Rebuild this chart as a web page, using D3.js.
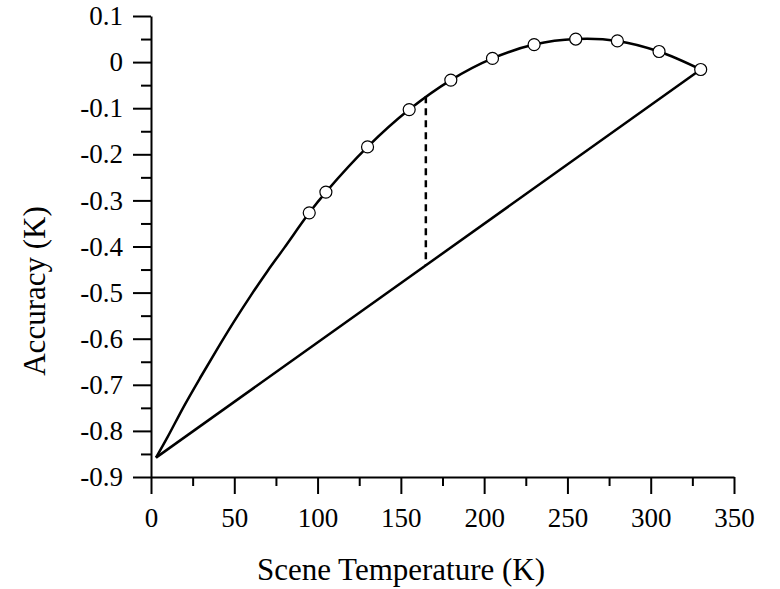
<!DOCTYPE html>
<html>
<head>
<meta charset="utf-8">
<script src="https://cdn.jsdelivr.net/npm/d3@7"></script>
<style>
  body { margin: 0; background: #fff; }
  svg { display: block; font-family: "Liberation Serif", "Times New Roman", serif; }
</style>
</head>
<body>
<svg id="chart"></svg>
<script>
// curve (no markers below 95 K)
var curveTemps = [3, 10, 20, 30, 40, 50, 60, 70, 80, 95, 105, 130, 155, 180, 205, 230, 255, 280, 305, 330];
var curveAcc   = [-0.858, -0.813, -0.745, -0.682, -0.621, -0.562, -0.506, -0.453, -0.403, -0.327, -0.282, -0.184, -0.103, -0.039, 0.008, 0.038, 0.050, 0.046, 0.023, -0.016];

// measured points (circles)
var pointTemps = [95, 105, 130, 155, 180, 205, 230, 255, 280, 305, 330];
var pointAcc   = [-0.327, -0.282, -0.184, -0.103, -0.039, 0.008, 0.038, 0.050, 0.046, 0.023, -0.016];

// straight chord between the end points
var chordTemps = [3, 330];
var chordAcc   = [-0.858, -0.016];

// dashed gap marker
var gapTemps = [165, 165];
var gapAcc   = [-0.074, -0.440];

var xTicks = [0, 50, 100, 150, 200, 250, 300, 350];
var xTickLabels = ["0", "50", "100", "150", "200", "250", "300", "350"];
var xMinor = [25, 75, 125, 175, 225, 275, 325];
var yTicks = [0.1, 0, -0.1, -0.2, -0.3, -0.4, -0.5, -0.6, -0.7, -0.8, -0.9];
var yTickLabels = ["0.1", "0", "-0.1", "-0.2", "-0.3", "-0.4", "-0.5", "-0.6", "-0.7", "-0.8", "-0.9"];
var yMinor = [0.05, -0.05, -0.15, -0.25, -0.35, -0.45, -0.55, -0.65, -0.75, -0.85];

var margin = {top: 16, right: 46, bottom: 112, left: 151};
var width  = 780 - margin.left - margin.right;
var height = 589 - margin.top - margin.bottom;

var x = d3.scaleLinear().domain([0, 350]).range([0, width]);
var y = d3.scaleLinear().domain([-0.9, 0.1]).range([height, 0]);

var svg = d3.select("#chart")
  .attr("width", 780)
  .attr("height", 589)
  .append("g")
  .attr("transform", "translate(" + margin.left + "," + margin.top + ")");

function zip(a, b) { return a.map(function(v, i) { return [v, b[i]]; }); }

// axes
var xAxis = svg.append("g")
  .attr("transform", "translate(0," + height + ")")
  .call(d3.axisBottom(x).tickValues(xTicks).tickSize(17).tickSizeOuter(0).tickPadding(14)
    .tickFormat(function(d, i) { return xTickLabels[i]; }));
svg.append("g")
  .attr("transform", "translate(0," + height + ")")
  .call(d3.axisBottom(x).tickValues(xMinor).tickSize(9).tickSizeOuter(0).tickFormat(""))
  .select(".domain").remove();

var yAxis = svg.append("g")
  .call(d3.axisLeft(y).tickValues(yTicks).tickSize(18).tickSizeOuter(0).tickPadding(10)
    .tickFormat(function(d, i) { return yTickLabels[i]; }));
svg.append("g")
  .call(d3.axisLeft(y).tickValues(yMinor).tickSize(10).tickSizeOuter(0).tickFormat(""))
  .select(".domain").remove();

svg.selectAll(".domain, .tick line")
  .attr("stroke", "#000")
  .attr("stroke-width", 2);
svg.selectAll(".tick text")
  .attr("fill", "#000")
  .style("font-size", "27px")
  .style("font-family", "'Liberation Serif', 'Times New Roman', serif");

// axis titles
svg.append("text")
  .attr("x", 401 - margin.left)
  .attr("y", 580 - margin.top)
  .style("text-anchor", "middle")
  .style("font-size", "31px")
  .text("Scene Temperature (K)");

svg.append("text")
  .attr("transform", "translate(" + (45 - margin.left) + "," + (291 - margin.top) + ") rotate(-90)")
  .style("text-anchor", "middle")
  .style("font-size", "31px")
  .text("Accuracy (K)");

var line = d3.line()
  .x(function(d) { return x(d[0]); })
  .y(function(d) { return y(d[1]); });

svg.append("path")
  .datum(zip(chordTemps, chordAcc))
  .attr("d", line)
  .attr("fill", "none")
  .attr("stroke", "#000")
  .attr("stroke-width", 2.5);

svg.append("path")
  .datum(zip(gapTemps, gapAcc))
  .attr("d", line)
  .attr("fill", "none")
  .attr("stroke", "#000")
  .attr("stroke-width", 2.5)
  .attr("stroke-dasharray", "7,5");

svg.append("path")
  .datum(zip(curveTemps, curveAcc))
  .attr("d", line.curve(d3.curveCatmullRom))
  .attr("fill", "none")
  .attr("stroke", "#000")
  .attr("stroke-width", 2.5);

svg.selectAll("circle.pt")
  .data(zip(pointTemps, pointAcc))
  .enter()
  .append("circle")
  .attr("class", "pt")
  .attr("cx", function(d) { return x(d[0]); })
  .attr("cy", function(d) { return y(d[1]); })
  .attr("r", 6)
  .attr("fill", "#fff")
  .attr("stroke", "#000")
  .attr("stroke-width", 1.2);
</script>
</body>
</html>
